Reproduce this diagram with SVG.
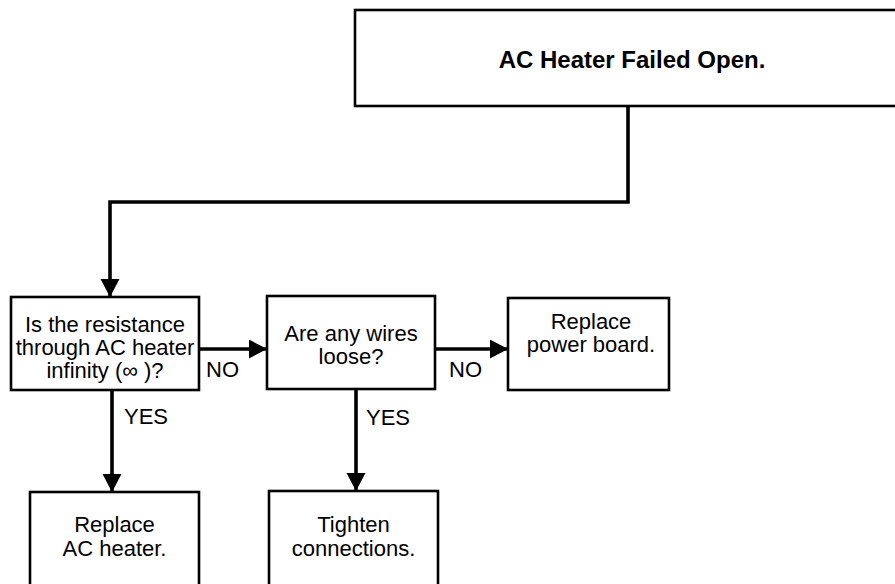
<svg xmlns="http://www.w3.org/2000/svg" width="895" height="584" viewBox="0 0 895 584">
<style>
.box{fill:#fff;stroke:#000;stroke-width:2.6}
.t{font-family:"Liberation Sans",Arial,sans-serif;font-size:22px;fill:#000;text-anchor:middle}
.title{font-family:"Liberation Sans",Arial,sans-serif;font-size:24px;font-weight:bold;fill:#000;text-anchor:middle}
.lbl{font-family:"Liberation Sans",Arial,sans-serif;font-size:22px;fill:#000}
.conn{fill:none;stroke:#000;stroke-width:3.6}
</style>
<defs>
<marker id="arr" markerUnits="userSpaceOnUse" markerWidth="19" markerHeight="20" refX="18" refY="9.5" orient="auto" viewBox="0 0 19 20">
<path d="M0,0 L18,9.5 L0,19 Z" fill="#000"/>
</marker>
</defs>
<rect width="895" height="584" fill="#fff"/>
<g id="connectors">
<path class="conn" d="M628,106 V202 H110 V297" marker-end="url(#arr)"/>
<path class="conn" d="M199,349 H267" marker-end="url(#arr)"/>
<path class="conn" d="M435,349 H508" marker-end="url(#arr)"/>
<path class="conn" d="M112,390 V492" marker-end="url(#arr)"/>
<path class="conn" d="M356,389 V491" marker-end="url(#arr)"/>
<text class="lbl" x="206" y="377">NO</text>
<text class="lbl" x="124" y="424">YES</text>
<text class="lbl" x="449" y="377">NO</text>
<text class="lbl" x="366" y="425">YES</text>
</g>
<g id="n_start">
<rect class="box" x="355" y="10" width="580" height="96"/>
<text class="title" x="632" y="68">AC Heater Failed Open.</text>
</g>
<g id="n_resistance">
<rect class="box" x="11" y="297" width="188" height="93"/>
<text class="t" x="105" y="332">Is the resistance</text>
<text class="t" x="105" y="355">through AC heater</text>
<text class="t" x="105" y="378">infinity (∞ )?</text>
</g>
<g id="n_wires">
<rect class="box" x="267" y="296" width="168" height="93"/>
<text class="t" x="351" y="341">Are any wires</text>
<text class="t" x="351" y="364">loose?</text>
</g>
<g id="n_power">
<rect class="box" x="508" y="298" width="161" height="92"/>
<text class="t" x="591" y="329">Replace</text>
<text class="t" x="591" y="352">power board.</text>
</g>
<g id="n_heater">
<rect class="box" x="30" y="492" width="169" height="120"/>
<text class="t" x="114.5" y="532">Replace</text>
<text class="t" x="114.5" y="556">AC heater.</text>
</g>
<g id="n_tighten">
<rect class="box" x="269" y="491" width="169" height="120"/>
<text class="t" x="353.5" y="532">Tighten</text>
<text class="t" x="353.5" y="556">connections.</text>
</g>
</svg>
